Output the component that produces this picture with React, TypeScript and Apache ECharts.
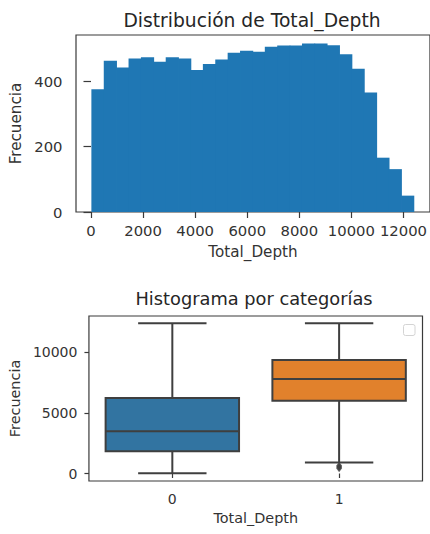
import React, { useEffect, useRef } from 'react';
import * as echarts from 'echarts';

// ---- Histogram (top) ----
const histMin = 30;
const histMax = 12400;
const histCounts = [375, 462, 442, 469, 473, 459, 473, 469, 434, 452, 466, 487, 493, 490, 505, 509, 509, 515, 515, 510, 482, 438, 365, 166, 131, 50];
const histXTicks = [0, 2000, 4000, 6000, 8000, 10000, 12000];
const histYTicks = [0, 200, 400];

// ---- Box plot (bottom) ----
const boxCategories = ['0', '1'];
// [min, q1, median, q3, max]
const boxStats = [
  [30, 1830, 3480, 6230, 12400],
  [900, 6010, 7810, 9370, 12400],
];
const boxColors = ['#3274a1', '#e1812c'];
const boxOutliers = [
  [1, 640],
  [1, 530],
  [1, 430],
];
const boxYTicks = [0, 5000, 10000];

const FONT = 'DejaVu Sans';
const TXT = '#333333';
const SPINE = '#3a3a3a';
const plain = (v: number) => String(v);

export default function App() {
  const ref = useRef<HTMLDivElement>(null);

  useEffect(() => {
    document.body.style.margin = '0';
    if (!ref.current) return;
    const chart = echarts.init(ref.current, undefined, { renderer: 'svg' });

    const binWidth = (histMax - histMin) / histCounts.length;
    const histData = histCounts.map((c, i) => [histMin + i * binWidth, histMin + (i + 1) * binWidth, c]);
    const boxData = boxStats.map((s, i) => [i, ...s]);

    const option: any = {
      animation: false,
      textStyle: { fontFamily: FONT },
      grid: [
        { left: 76, top: 35, width: 354, height: 177, show: true, borderColor: SPINE, borderWidth: 1.2, backgroundColor: 'transparent' },
        { left: 87.5, top: 316, width: 335, height: 165, show: true, borderColor: SPINE, borderWidth: 1.2, backgroundColor: 'transparent' },
      ],
      xAxis: [
        {
          type: 'value', gridIndex: 0, min: -576, max: 13018,
          splitLine: { show: false },
          axisLine: { show: false },
          axisTick: { show: true, length: 6, customValues: histXTicks, lineStyle: { color: SPINE, width: 1.2 } },
          axisLabel: { customValues: histXTicks, formatter: plain, fontSize: 14.8, color: TXT, margin: 10.5, fontFamily: FONT },
          name: 'Total_Depth', nameLocation: 'middle', nameGap: 32.5,
          nameTextStyle: { fontSize: 15.2, color: TXT, fontFamily: FONT },
        },
        {
          type: 'category', gridIndex: 1, data: boxCategories, boundaryGap: true,
          axisLine: { show: false },
          axisTick: { show: true, alignWithLabel: true, length: 4.5, lineStyle: { color: SPINE, width: 1.2 } },
          axisLabel: { fontSize: 14, color: TXT, margin: 11, fontFamily: FONT },
          name: 'Total_Depth', nameLocation: 'middle', nameGap: 30,
          nameTextStyle: { fontSize: 14.4, color: TXT, fontFamily: FONT },
        },
      ],
      yAxis: [
        {
          type: 'value', gridIndex: 0, min: 0, max: 541,
          splitLine: { show: false },
          axisLine: { show: false },
          axisTick: { show: true, length: 7.5, customValues: histYTicks, lineStyle: { color: SPINE, width: 1.2 } },
          axisLabel: { customValues: histYTicks, formatter: plain, fontSize: 14.8, color: TXT, margin: 13.5, fontFamily: FONT },
          name: 'Frecuencia', nameLocation: 'middle', nameGap: 50,
          nameTextStyle: { fontSize: 15.2, color: TXT, fontFamily: FONT },
        },
        {
          type: 'value', gridIndex: 1, min: -619, max: 13003,
          splitLine: { show: false },
          axisLine: { show: false },
          axisTick: { show: true, length: 4.5, customValues: boxYTicks, lineStyle: { color: SPINE, width: 1.2 } },
          axisLabel: { customValues: boxYTicks, formatter: plain, fontSize: 14, color: TXT, margin: 11.5, fontFamily: FONT },
          name: 'Frecuencia', nameLocation: 'middle', nameGap: 65,
          nameTextStyle: { fontSize: 14.4, color: TXT, fontFamily: FONT },
        },
      ],
      graphic: [
        { type: 'text', x: 252, y: 20.2, style: { text: 'Distribución de Total_Depth', fontSize: 18.7, fill: '#262626', fontFamily: FONT, textAlign: 'center', textVerticalAlign: 'middle' } },
        { type: 'text', x: 254, y: 298.8, style: { text: 'Histograma por categorías', fontSize: 17.8, fill: '#262626', fontFamily: FONT, textAlign: 'center', textVerticalAlign: 'middle' } },
        { type: 'rect', shape: { x: 403.5, y: 324.5, width: 11.5, height: 11, r: 2 }, style: { fill: '#ffffff', stroke: '#d4d4d4', lineWidth: 1 } },
      ],
      series: [
        {
          type: 'custom', xAxisIndex: 0, yAxisIndex: 0,
          encode: { x: [0, 1], y: 2 },
          data: histData,
          renderItem: (params: any, api: any) => {
            const p0 = api.coord([api.value(0), api.value(2)]);
            const p1 = api.coord([api.value(1), 0]);
            return {
              type: 'rect',
              shape: { x: p0[0] - 0.4, y: p0[1], width: p1[0] - p0[0] + 0.8, height: p1[1] - p0[1] },
              style: { fill: '#1f77b4', lineWidth: 0 },
            };
          },
        },
        {
          type: 'custom', xAxisIndex: 1, yAxisIndex: 1,
          encode: { x: 0, y: [1, 2, 3, 4, 5] },
          data: boxData,
          renderItem: (params: any, api: any) => {
            const idx = api.value(0);
            const mn = api.value(1), q1 = api.value(2), md = api.value(3), q3 = api.value(4), mx = api.value(5);
            const band = api.size([1, 0])[0];
            const cx = api.coord([idx, md])[0];
            const y = (v: number) => api.coord([idx, v])[1];
            const bw = band * 0.8;
            const cw = band * 0.41;
            const ls = { stroke: '#3f3f3f', lineWidth: 2 };
            return {
              type: 'group',
              children: [
                { type: 'line', shape: { x1: cx, y1: y(mx), x2: cx, y2: y(q3) }, style: ls },
                { type: 'line', shape: { x1: cx, y1: y(q1), x2: cx, y2: y(mn) }, style: ls },
                { type: 'line', shape: { x1: cx - cw / 2, y1: y(mx), x2: cx + cw / 2, y2: y(mx) }, style: ls },
                { type: 'line', shape: { x1: cx - cw / 2, y1: y(mn), x2: cx + cw / 2, y2: y(mn) }, style: ls },
                { type: 'rect', shape: { x: cx - bw / 2, y: y(q3), width: bw, height: y(q1) - y(q3) }, style: { fill: boxColors[idx], stroke: '#3f3f3f', lineWidth: 2 } },
                { type: 'line', shape: { x1: cx - bw / 2, y1: y(md), x2: cx + bw / 2, y2: y(md) }, style: ls },
              ],
            };
          },
        },
        {
          type: 'scatter', xAxisIndex: 1, yAxisIndex: 1,
          data: boxOutliers,
          symbol: 'diamond', symbolSize: [6, 8],
          itemStyle: { color: '#3f3f3f' },
        },
      ],
    };

    chart.setOption(option);
    return () => chart.dispose();
  }, []);

  return <div ref={ref} style={{ width: 430, height: 534 }} />;
}
